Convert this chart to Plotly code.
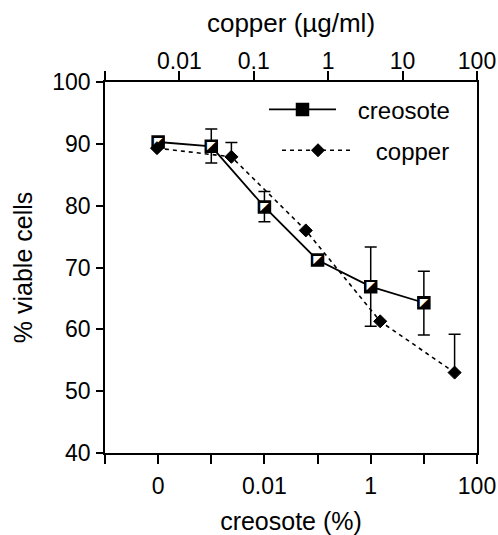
import plotly.graph_objects as go

# ---- data ----
creosote_pct = [1e-4, 1e-3, 1e-2, 1e-1, 1, 10]          # 1e-4 position is labelled "0"
creosote_viable = [90.3, 89.6, 79.8, 71.2, 66.9, 64.3]
creosote_err_plus = [0, 2.8, 2.5, 0, 6.4, 5.1]
creosote_err_minus = [0, 2.7, 2.4, 0, 6.4, 5.2]

copper_ugml = [0.005, 0.05, 0.5, 5, 50]
copper_viable = [89.3, 87.9, 76.0, 61.3, 53.0]
copper_err_plus = [0, 2.3, 0, 0, 6.2]
copper_err_minus = [0, 0, 0, 0, 0]

bottom_tickvals = [1e-5, 1e-4, 1e-3, 1e-2, 1e-1, 1, 10, 100]
bottom_ticktext = ["", "0", "", "0.01", "", "1", "", "100"]
top_tickvals = [1e-3, 1e-2, 1e-1, 1, 10, 100]
top_ticktext = ["", "0.01", "0.1", "1", "10", "100"]
y_tickvals = [40, 50, 60, 70, 80, 90, 100]

FONT = "Liberation Sans, Arial, sans-serif"

fig = go.Figure()

fig.add_trace(go.Scatter(
    x=copper_ugml, y=copper_viable, xaxis="x2", yaxis="y",
    name="\u2002\u2009copper", mode="lines+markers",
    line=dict(color="black", width=1.6, dash="4px,4px"),
    marker=dict(symbol="diamond", size=10, color="black",
                line=dict(color="black", width=1)),
    error_y=dict(type="data", symmetric=False, array=copper_err_plus,
                 arrayminus=copper_err_minus, color="black",
                 thickness=1.5, width=6),
    legend="legend2",
))

fig.add_trace(go.Scatter(
    x=creosote_pct, y=creosote_viable, xaxis="x", yaxis="y",
    name="\u2002\u2009creosote", mode="lines+markers",
    line=dict(color="black", width=1.8),
    marker=dict(symbol="square", size=12, color="black",
                line=dict(color="black", width=1.5)),
    error_y=dict(type="data", symmetric=False, array=creosote_err_plus,
                 arrayminus=creosote_err_minus, color="black",
                 thickness=1.5, width=6),
    legend="legend",
))

# white upper-left half of the creosote squares (glyph overlay)
fig.add_trace(go.Scatter(
    x=creosote_pct, y=creosote_viable, xaxis="x", yaxis="y",
    mode="text", text=["\u25e4"] * len(creosote_pct),
    textposition="middle center",
    textfont=dict(family="DejaVu Sans", size=11, color="white"),
    showlegend=False, hoverinfo="skip",
))

axis_common = dict(
    showline=True, linecolor="black", linewidth=1.5,
    ticks="outside", tickcolor="black", tickwidth=1.5,
    showgrid=False, zeroline=False, automargin=False,
    tickfont=dict(family=FONT, size=23, color="black"),
)

fig.update_layout(
    width=498, height=535,
    margin=dict(l=105, r=21, t=82, b=82),
    paper_bgcolor="white", plot_bgcolor="white",
    font=dict(family=FONT, color="black"),
    xaxis=dict(
        type="log", range=[-5, 2],
        tickvals=bottom_tickvals, ticktext=bottom_ticktext,
        ticklen=9, ticklabelstandoff=3,
        title=dict(text="creosote (%)", font=dict(family=FONT, size=25), standoff=14),
        **axis_common,
    ),
    xaxis2=dict(
        type="log", range=[-3, 2], overlaying="x", side="top", anchor="y",
        tickvals=top_tickvals, ticktext=top_ticktext,
        ticklen=9, ticklabelstandoff=-7,
        title=dict(text="copper (\u00b5g/ml)", font=dict(family=FONT, size=26), standoff=8),
        **axis_common,
    ),
    yaxis=dict(
        range=[40, 100], tickvals=y_tickvals,
        ticklen=7, ticklabelstandoff=1, mirror=True,
        title=dict(text="% viable cells", font=dict(family=FONT, size=25), standoff=13),
        **axis_common,
    ),
    legend=dict(
        x=0.4274, y=0.925, xanchor="left", yanchor="middle",
        bgcolor="rgba(0,0,0,0)", itemwidth=67,
        font=dict(family=FONT, size=24, color="black"),
    ),
    legend2=dict(
        x=0.4624, y=0.815, xanchor="left", yanchor="middle",
        bgcolor="rgba(0,0,0,0)", itemwidth=72,
        font=dict(family=FONT, size=24, color="black"),
    ),
)

# remove the page's default body margin so the 498x535 figure fills the window exactly
fig.write_html(
    "out.html",
    config={"displayModeBar": False},
    post_script="document.body.style.margin='0';document.body.style.overflow='hidden';",
)
